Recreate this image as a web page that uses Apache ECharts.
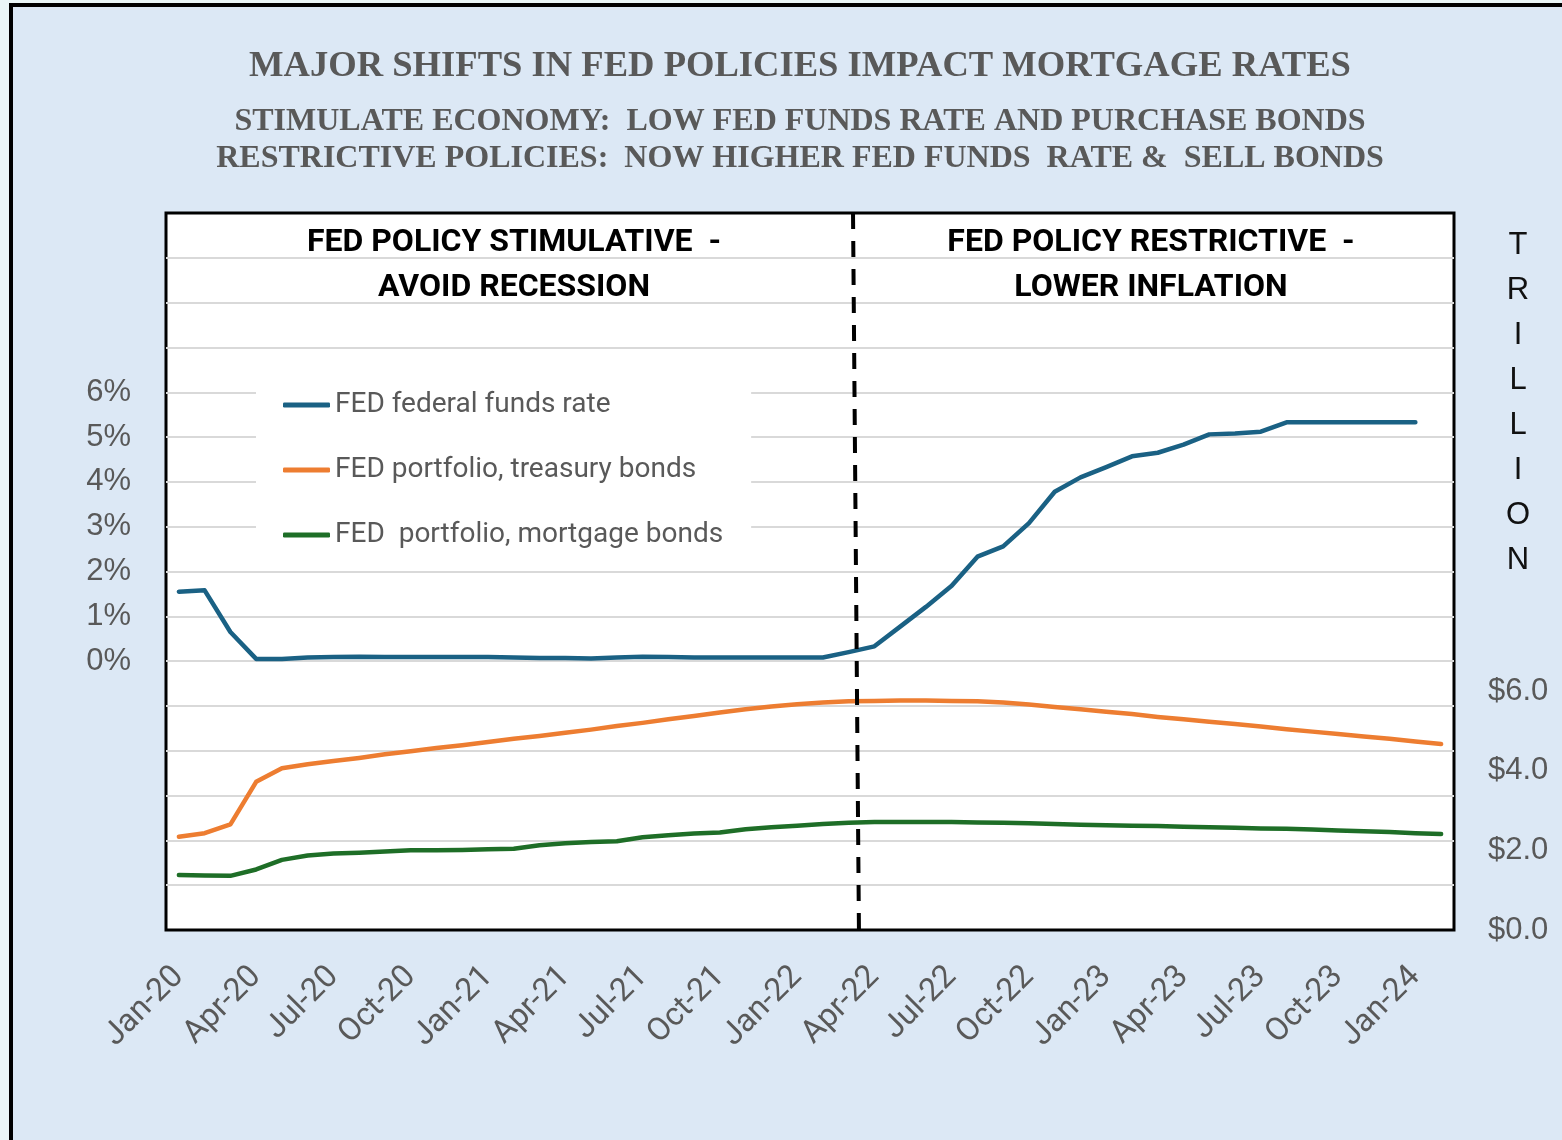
<!DOCTYPE html>
<html>
<head>
<meta charset="utf-8">
<title>Major shifts in Fed policies impact mortgage rates</title>
<script src="https://cdn.jsdelivr.net/npm/echarts@6/dist/echarts.min.js"></script>
<style>
    html, body { margin: 0; padding: 0; overflow: hidden; background: #eaf6f7; }
    .frame {
        position: absolute; left: 9px; top: 3px; width: 1600px; height: 1200px;
        background: #dce8f5; border-left: 4px solid #000; border-top: 4px solid #000;
    }
    #chart { position: absolute; left: 0; top: 0; width: 1562px; height: 1140px; }
</style>
</head>
<body>
<div class="frame"></div>
<div id="chart"></div>
<script>
const MONTHS = [
    'Jan-20', 'Feb-20', 'Mar-20', 'Apr-20', 'May-20', 'Jun-20', 'Jul-20', 'Aug-20', 'Sep-20', 'Oct-20', 'Nov-20', 'Dec-20',
    'Jan-21', 'Feb-21', 'Mar-21', 'Apr-21', 'May-21', 'Jun-21', 'Jul-21', 'Aug-21', 'Sep-21', 'Oct-21', 'Nov-21', 'Dec-21',
    'Jan-22', 'Feb-22', 'Mar-22', 'Apr-22', 'May-22', 'Jun-22', 'Jul-22', 'Aug-22', 'Sep-22', 'Oct-22', 'Nov-22', 'Dec-22',
    'Jan-23', 'Feb-23', 'Mar-23', 'Apr-23', 'May-23', 'Jun-23', 'Jul-23', 'Aug-23', 'Sep-23', 'Oct-23', 'Nov-23', 'Dec-23',
    'Jan-24', 'Feb-24'
];

// effective fed funds rate, % (no value for Feb-24)
const fedFundsRate = [
    1.55, 1.58, 0.65, 0.05, 0.05, 0.08, 0.09, 0.10, 0.09, 0.09, 0.09, 0.09,
    0.09, 0.08, 0.07, 0.07, 0.06, 0.08, 0.10, 0.09, 0.08, 0.08, 0.08, 0.08,
    0.08, 0.08, 0.20, 0.33, 0.77, 1.21, 1.68, 2.33, 2.56, 3.08, 3.78, 4.10,
    4.33, 4.57, 4.65, 4.83, 5.06, 5.08, 5.12, 5.33, 5.33, 5.33, 5.33, 5.33,
    5.33
];

// Fed holdings, $ trillion
const treasuryBonds = [
    2.34, 2.43, 2.65, 3.72, 4.06, 4.16, 4.24, 4.32, 4.41, 4.49, 4.57, 4.64,
    4.72, 4.80, 4.87, 4.95, 5.03, 5.12, 5.20, 5.29, 5.37, 5.46, 5.54, 5.61,
    5.67, 5.71, 5.74, 5.75, 5.76, 5.76, 5.75, 5.74, 5.71, 5.66, 5.60, 5.54,
    5.48, 5.42, 5.35, 5.29, 5.23, 5.17, 5.11, 5.04, 4.98, 4.92, 4.86, 4.80,
    4.73, 4.67
];

const mortgageBonds = [
    1.38, 1.37, 1.36, 1.52, 1.76, 1.87, 1.92, 1.94, 1.97, 2.00, 2.00, 2.01,
    2.03, 2.04, 2.13, 2.18, 2.21, 2.23, 2.33, 2.38, 2.42, 2.45, 2.53, 2.58,
    2.62, 2.66, 2.69, 2.71, 2.71, 2.71, 2.71, 2.70, 2.69, 2.68, 2.66, 2.64,
    2.63, 2.62, 2.61, 2.59, 2.58, 2.57, 2.55, 2.54, 2.52, 2.50, 2.48, 2.46,
    2.43, 2.41
];

// dashed divider between the two policy periods, [month position, rate %]
const policyDivider = [[26.17, 10], [26.40, -6]];

const rateTicks = [0, 1, 2, 3, 4, 5, 6];
const trillionTicks = [0, 2, 4, 6];

const SERIES_NAMES = ['FED federal funds rate', 'FED portfolio, treasury bonds', 'FED  portfolio, mortgage bonds'];
const GREY = '#595959';

function lineSeries(name, data, color, axis) {
    return {
        name: name,
        type: 'line',
        data: data,
        yAxisIndex: axis,
        symbol: 'none',
        lineStyle: { color: color, width: 4.5, cap: 'round', join: 'round' },
        itemStyle: { color: color },
        z: 3
    };
}

function headerText(text, y, size) {
    return {
        type: 'text', x: 800, y: y, z: 100,
        style: {
            text: text, fill: GREY, align: 'center', verticalAlign: 'middle',
            fontFamily: 'Liberation Serif', fontWeight: 'bold', fontSize: size
        }
    };
}

function periodText(text, x) {
    return {
        type: 'text', x: x, y: 220, z: 100,
        style: {
            text: text, fill: '#000', align: 'center', verticalAlign: 'top',
            fontFamily: 'Roboto', fontWeight: 'bold', fontSize: 32, lineHeight: 45
        }
    };
}

const chart = echarts.init(document.getElementById('chart'));

chart.setOption({
    backgroundColor: 'transparent',
    animation: false,
    grid: {
        left: 166, right: 108, top: 213, bottom: 210,
        show: true, backgroundColor: '#fff', borderColor: '#000', borderWidth: 3
    },
    legend: {
        data: SERIES_NAMES,
        orient: 'vertical',
        left: 256, top: 375,
        padding: [15, 28, 15, 27],
        backgroundColor: '#fff',
        icon: 'roundRect',
        itemWidth: 47, itemHeight: 5, itemGap: 35,
        textStyle: { fontFamily: 'Roboto', fontSize: 28, color: GREY, lineHeight: 30 }
    },
    xAxis: [{
        type: 'category',
        data: MONTHS,
        boundaryGap: true,
        axisLine: { show: false },
        axisTick: { show: false },
        axisLabel: {
            interval: 2, rotate: 45, margin: 42,
            fontFamily: 'Roboto', fontSize: 32, color: GREY
        }
    }, {
        type: 'value', min: -0.5, max: 49.5, show: false
    }],
    yAxis: [{
        type: 'value', min: -6, max: 10, interval: 1,
        axisLine: { show: false },
        axisTick: { show: false },
        splitLine: { show: true, showMinLine: false, showMaxLine: false, lineStyle: { color: '#d9d9d9', width: 2 } },
        axisLabel: {
            margin: 35, fontFamily: 'Liberation Sans', fontSize: 31, color: GREY,
            formatter: (v) => rateTicks.includes(v) ? v + '%' : ''
        }
    }, {
        type: 'value', min: 0, max: 18, interval: 2, position: 'right',
        axisLine: { show: false },
        axisTick: { show: false },
        splitLine: { show: false },
        axisLabel: {
            margin: 34, fontFamily: 'Liberation Sans', fontSize: 31, color: GREY,
            formatter: (v) => trillionTicks.includes(v) ? '$' + v.toFixed(1) : ''
        }
    }],
    series: [
        lineSeries(SERIES_NAMES[0], fedFundsRate, '#1a6184', 0),
        lineSeries(SERIES_NAMES[1], treasuryBonds, '#ed7d31', 1),
        lineSeries(SERIES_NAMES[2], mortgageBonds, '#1e6e27', 1),
        {
            name: 'divider',
            type: 'line',
            xAxisIndex: 1,
            yAxisIndex: 0,
            data: policyDivider,
            symbol: 'none',
            silent: true,
            lineStyle: { color: '#000', width: 4, type: [16, 12] },
            z: 4
        }
    ],
    graphic: [
        headerText('MAJOR SHIFTS IN FED POLICIES IMPACT MORTGAGE RATES', 67, 36.6),
        headerText('STIMULATE ECONOMY:  LOW FED FUNDS RATE AND PURCHASE BONDS', 122, 32),
        headerText('RESTRICTIVE POLICIES:  NOW HIGHER FED FUNDS  RATE &  SELL BONDS', 159, 32),
        periodText('FED POLICY STIMULATIVE  -\nAVOID RECESSION', 514),
        periodText('FED POLICY RESTRICTIVE  -\nLOWER INFLATION', 1151),
        {
            type: 'text', x: 1518, y: 223, z: 100,
            style: {
                text: 'TRILLION'.split('').join('\n'), fill: '#111', align: 'center', verticalAlign: 'top',
                fontFamily: 'Liberation Sans', fontSize: 31, lineHeight: 45
            }
        }
    ]
});

window.addEventListener('resize', () => chart.resize());
</script>
</body>
</html>
